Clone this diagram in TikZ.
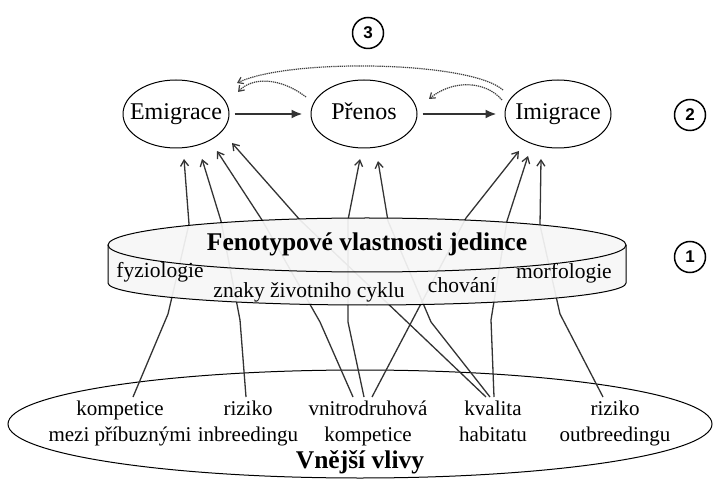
\documentclass[tikz,border=0pt]{standalone}
\usepackage{fontspec}
\setmainfont{Liberation Serif}
\newfontfamily\numfont{Liberation Sans}
\usetikzlibrary{arrows.meta,shapes.geometric}
\begin{document}
\begin{tikzpicture}[x=1pt,y=1pt,
  stage/.style={draw, ellipse, line width=1pt, minimum width=106pt, minimum height=68pt, inner sep=0pt},
  stagetext/.style={font=\fontsize{24}{28}\selectfont, inner sep=0pt, anchor=base},
  flow/.style={line width=2pt, draw=black!80, -{Latex[length=11pt,width=9pt]}},
  back/.style={line width=1.2pt, draw=black!75, dash pattern=on 1.3pt off 0.8pt, -{Straight Barb[length=5pt,width=7pt]}},
  link/.style={line width=1.3pt, draw=black!80, line join=round, -{Straight Barb[length=6pt,width=8pt]}},
  numc/.style={draw, circle, line width=1.5pt, minimum size=31pt, inner sep=0pt, font=\numfont\bfseries\fontsize{17}{17}\selectfont},
  small/.style={font=\fontsize{21.5}{25}\selectfont, inner sep=0pt},
  item/.style={font=\fontsize{21}{26}\selectfont, align=center, inner sep=0pt, anchor=north},
  heading/.style={font=\bfseries\fontsize{25.5}{30}\selectfont, inner sep=0pt}
]
\useasboundingbox (0,0) rectangle (719,482);

% circled numbers
\node[numc] (n3) at (368,449) {3};
\node[numc] (n2) at (690,367) {2};
\node[numc] (n1) at (690,225) {1};

% dispersal stages
\node[stage] (emi) at (176,368) {};
\node[stage] (pre) at (364,368) {};
\node[stage] (imi) at (558,368) {};
\node[stagetext] (emiT) at (176,362) {Emigrace};
\node[stagetext] (preT) at (364,362) {Přenos};
\node[stagetext] (imiT) at (558,362) {Imigrace};

\draw[flow, shorten <=5pt, shorten >=8pt] (emi.east) -- (pre.west);
\draw[flow, shorten <=5pt, shorten >=8pt] (pre.east) -- (imi.west);

% feedback (dotted) arcs
\coordinate (d1s) at (503,392); \coordinate (d1e) at (237,399);
\coordinate (d2s) at (306,385); \coordinate (d2e) at (238,390);
\coordinate (d3s) at (502,382); \coordinate (d3e) at (429,383);
\draw[back] (d1s) .. controls (470,421) and (290,424) .. (d1e);
\draw[back] (d2s) .. controls (280,405) and (252,405) .. (d2e);
\draw[back] (d3s) .. controls (485,402) and (452,402) .. (d3e);

% external influences
\node[draw, ellipse, line width=1pt, minimum width=704pt, minimum height=108pt, inner sep=0pt] (ext) at (360,58) {};
\node[heading] (extT) at (360,20) {Vnější vlivy};
\node[item] (komp) at (120,81) {kompetice\\mezi příbuznými};
\node[item] (inbr) at (248,81) {riziko\\inbreedingu};
\node[item] (vnit) at (368,81) {vnitrodruhová\\kompetice};
\node[item] (kval) at (493,81) {kvalita\\habitatu};
\node[item] (outb) at (615,81) {riziko\\outbreedingu};

% connector points
\coordinate (s1) at (133,85); \coordinate (b1) at (168,168); \coordinate (x1) at (189,258); \coordinate (t1) at (184,323);
\coordinate (s2) at (246,85); \coordinate (b2) at (240,162); \coordinate (x2) at (221,261); \coordinate (t2) at (202,323);
\coordinate (s3) at (353,85); \coordinate (b3) at (320,160); \coordinate (x3) at (262,262); \coordinate (t3) at (217,331);
\coordinate (s4) at (486,85); \coordinate (x4) at (300,262); \coordinate (t4) at (232,339);
\coordinate (s5) at (364,85); \coordinate (b5) at (348,160); \coordinate (x5) at (348,262); \coordinate (t5) at (360,323);
\coordinate (s6) at (490,85); \coordinate (b6) at (431,160); \coordinate (x6) at (388,261); \coordinate (t6) at (378,321);
\coordinate (s7) at (372,85); \coordinate (x7) at (466,264); \coordinate (t7) at (519,331);
\coordinate (s8) at (494,85); \coordinate (b8) at (491,162); \coordinate (x8) at (507,261); \coordinate (t8) at (528,326);
\coordinate (s9) at (603,85); \coordinate (b9) at (560,168); \coordinate (x9) at (540,257); \coordinate (t9) at (541,323);

\draw[link] (s1) -- (b1) -- (x1) -- (t1);
\draw[link] (s2) -- (b2) -- (x2) -- (t2);
\draw[link] (s3) -- (b3) -- (x3) -- (t3);
\draw[link] (s4) -- (x4) -- (t4);
\draw[link] (s5) -- (b5) -- (x5) -- (t5);
\draw[link] (s6) -- (b6) -- (x6) -- (t6);
\draw[link] (s7) -- (x7) -- (t7);
\draw[link] (s8) -- (b8) -- (x8) -- (t8);
\draw[link] (s9) -- (b9) -- (x9) -- (t9);

% phenotype cylinder
\path[fill=gray!7, fill opacity=0.93] (108,237) arc[start angle=180, end angle=0, x radius=259, y radius=27]
  -- (626,199) arc[start angle=0, end angle=-180, x radius=259, y radius=22] -- cycle;
\draw[line width=1pt] (367,237) ellipse[x radius=259, y radius=27];
\draw[line width=1pt] (108,237) -- (108,199) arc[start angle=180, end angle=360, x radius=259, y radius=22] -- (626,237);

\node[heading] (fenT) at (367,238) {Fenotypové vlastnosti jedince};
\node[small] (fyz) at (160,210) {fyziologie};
\node[small] (zna) at (309,190) {znaky životniho cyklu};
\node[small] (cho) at (462,197) {chování};
\node[small] (mor) at (564,209) {morfologie};
\end{tikzpicture}
\end{document}
